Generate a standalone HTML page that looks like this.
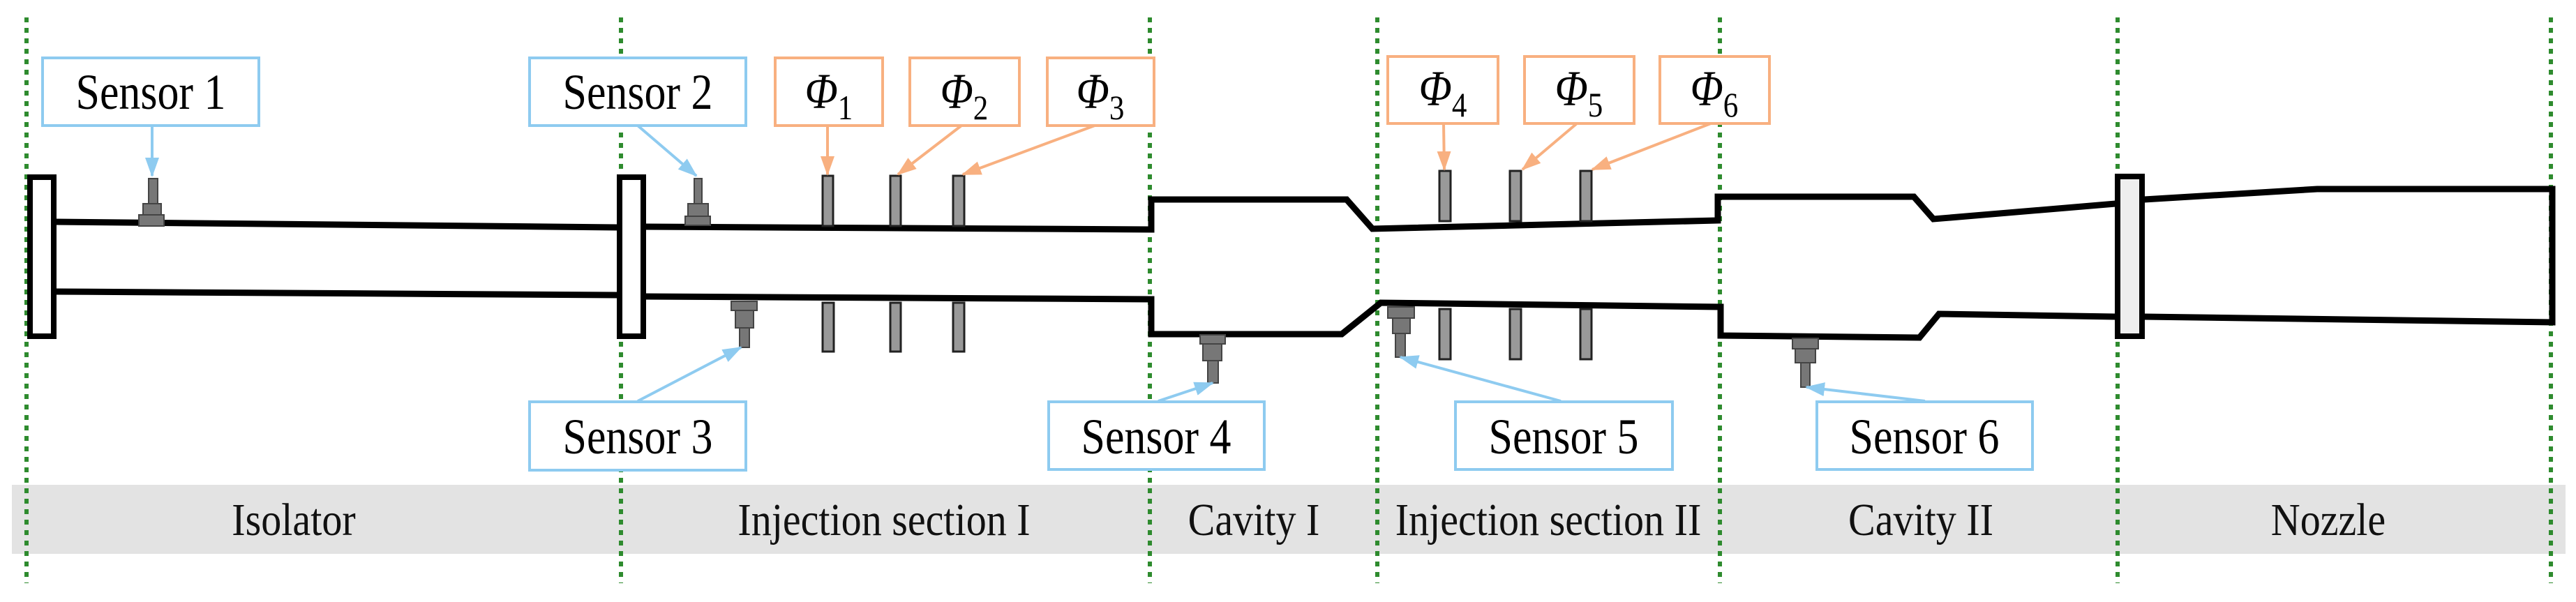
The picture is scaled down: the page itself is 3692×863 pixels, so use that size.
<!DOCTYPE html>
<html><head><meta charset="utf-8"><style>html,body{margin:0;padding:0;background:#fff}svg{display:block}</style></head>
<body>
<svg width="3692" height="863" viewBox="0 0 3692 863" xmlns="http://www.w3.org/2000/svg" font-family="'Liberation Serif', serif">
<defs>
<marker id="ab" markerWidth="28" markerHeight="20" refX="26" refY="10" orient="auto" markerUnits="userSpaceOnUse" viewBox="0 0 28 20"><path d="M0,0 L28,10 L0,20 z" fill="#8ecbf0"/></marker>
<marker id="ao" markerWidth="28" markerHeight="20" refX="26" refY="10" orient="auto" markerUnits="userSpaceOnUse" viewBox="0 0 28 20"><path d="M0,0 L28,10 L0,20 z" fill="#f8b080"/></marker>
</defs>
<style>
.bl line{stroke:#8ecbf0;stroke-width:4;fill:none;marker-end:url(#ab)}
.or line{stroke:#f8b080;stroke-width:4;fill:none;marker-end:url(#ao)}
.t text{font-size:72px;fill:#000;text-anchor:middle;transform-box:fill-box;transform-origin:center;transform:scaleX(0.86)}
.band text{font-size:66px;fill:#111;text-anchor:middle;transform-box:fill-box;transform-origin:center;transform:scaleX(0.88)}
.d{stroke:#000;stroke-width:9;fill:none;stroke-linejoin:miter}
.inj{fill:#999;stroke:#222;stroke-width:3}
.sn{fill:#777;stroke:#444;stroke-width:2}
</style>
<rect x="17" y="695" width="3660" height="99" fill="#e3e3e3"/>
<g class="band">
<text x="421" y="767">Isolator</text>
<text x="1267" y="767">Injection section I</text>
<text x="1797" y="767">Cavity I</text>
<text x="2219" y="767">Injection section II</text>
<text x="2753" y="767">Cavity II</text>
<text x="3337" y="767">Nozzle</text>
</g>
<g stroke="#2e8b2e" stroke-width="6" stroke-dasharray="7 8">
<line x1="38" y1="25" x2="38" y2="836"/><line x1="890" y1="25" x2="890" y2="836"/>
<line x1="1648" y1="25" x2="1648" y2="836"/><line x1="1974" y1="25" x2="1974" y2="836"/>
<line x1="2465" y1="25" x2="2465" y2="836"/><line x1="3035" y1="25" x2="3035" y2="836"/>
<line x1="3656" y1="25" x2="3656" y2="836"/>
</g>
<path class="d" d="M78,318 L885,326"/><path class="d" d="M78,418 L885,423"/>
<path class="d" d="M924,325 L1650,329 L1650,286 L1930,286 L1967,328 L2462,316 L2462,282 L2743,282 L2771,314 L3032,292"/>
<path class="d" d="M924,425 L1650,429 L1650,479 L1923,479 L1979,434 L2466,440 L2466,481 L2751,484 L2779,450 L3032,454"/>
<path class="d" d="M3073,286 L3321,271 L3658,271 L3658,462 L3073,454"/>
<rect x="43" y="254" width="34" height="228" fill="#fff" stroke="#000" stroke-width="8"/>
<rect x="888" y="254" width="34" height="228" fill="#fff" stroke="#000" stroke-width="8"/>
<rect x="3035" y="253" width="35" height="229" fill="#eee" stroke="#000" stroke-width="8"/>
<g class="inj">
<rect x="1179" y="252" width="15" height="72"/><rect x="1276" y="252" width="15" height="72"/><rect x="1366" y="252" width="16" height="72"/>
<rect x="1179" y="434" width="16" height="70"/><rect x="1276" y="434" width="15" height="70"/><rect x="1366" y="434" width="16" height="70"/>
<rect x="2063" y="245" width="16" height="72"/><rect x="2164" y="245" width="16" height="72"/><rect x="2265" y="245" width="16" height="72"/>
<rect x="2063" y="443" width="16" height="72"/><rect x="2164" y="443" width="16" height="72"/><rect x="2265" y="443" width="16" height="72"/>
</g>
<g class="sn">
<rect x="213" y="256" width="13" height="36"/><rect x="205" y="292" width="26" height="16"/><rect x="199" y="308" width="36" height="16"/>
<rect x="995" y="256" width="11" height="36"/><rect x="986" y="292" width="29" height="18"/><rect x="982" y="310" width="36" height="13"/>
<rect x="1048" y="432" width="37" height="13"/><rect x="1054" y="445" width="26" height="25"/><rect x="1060" y="470" width="14" height="28"/>
<rect x="1720" y="480" width="36" height="13"/><rect x="1724" y="493" width="27" height="24"/><rect x="1731" y="517" width="15" height="32"/>
<rect x="1989" y="440" width="38" height="16"/><rect x="1996" y="456" width="25" height="22"/><rect x="2000" y="478" width="14" height="34"/>
<rect x="2569" y="485" width="37" height="15"/><rect x="2573" y="500" width="29" height="20"/><rect x="2581" y="520" width="13" height="35"/>
</g>
<g class="bl">
<line x1="218" y1="180" x2="218" y2="252"/>
<line x1="914" y1="180" x2="998" y2="252"/>
<line x1="914" y1="575" x2="1062" y2="498"/>
<line x1="1660" y1="575" x2="1738" y2="549"/>
<line x1="2237" y1="575" x2="2007" y2="512"/>
<line x1="2759" y1="575" x2="2589" y2="555"/>
</g>
<g class="or">
<line x1="1186" y1="180" x2="1186" y2="250"/>
<line x1="1378" y1="180" x2="1287" y2="250"/>
<line x1="1569" y1="180" x2="1380" y2="250"/>
<line x1="2069" y1="177" x2="2070" y2="243"/>
<line x1="2260" y1="177" x2="2182" y2="243"/>
<line x1="2452" y1="177" x2="2282" y2="243"/>
</g>
<g fill="#fff" stroke="#8ecbf0" stroke-width="4">
<rect x="61" y="83" width="310" height="97"/><rect x="759" y="83" width="310" height="97"/>
<rect x="759" y="576" width="310" height="98"/><rect x="1503" y="576" width="309" height="97"/>
<rect x="2086" y="576" width="311" height="97"/><rect x="2604" y="576" width="309" height="97"/>
</g>
<g fill="#fff" stroke="#f8b080" stroke-width="4">
<rect x="1111" y="83" width="154" height="97"/><rect x="1304" y="83" width="157" height="97"/><rect x="1501" y="83" width="153" height="97"/>
<rect x="1989" y="81" width="158" height="96"/><rect x="2185" y="81" width="157" height="96"/><rect x="2379" y="81" width="157" height="96"/>
</g>
<g class="t">
<text x="216" y="156">Sensor 1</text><text x="914" y="156">Sensor 2</text>
<text x="914" y="650">Sensor 3</text><text x="1657" y="650">Sensor 4</text>
<text x="2241" y="650">Sensor 5</text><text x="2758" y="650">Sensor 6</text>
<text x="1188" y="155"><tspan font-style="italic">Φ</tspan><tspan font-size="50" dy="16">1</tspan></text>
<text x="1382" y="155"><tspan font-style="italic">Φ</tspan><tspan font-size="50" dy="16">2</tspan></text>
<text x="1577" y="155"><tspan font-style="italic">Φ</tspan><tspan font-size="50" dy="16">3</tspan></text>
<text x="2068" y="151"><tspan font-style="italic">Φ</tspan><tspan font-size="50" dy="16">4</tspan></text>
<text x="2263" y="151"><tspan font-style="italic">Φ</tspan><tspan font-size="50" dy="16">5</tspan></text>
<text x="2457" y="151"><tspan font-style="italic">Φ</tspan><tspan font-size="50" dy="16">6</tspan></text>
</g>
</svg>
</body></html>
